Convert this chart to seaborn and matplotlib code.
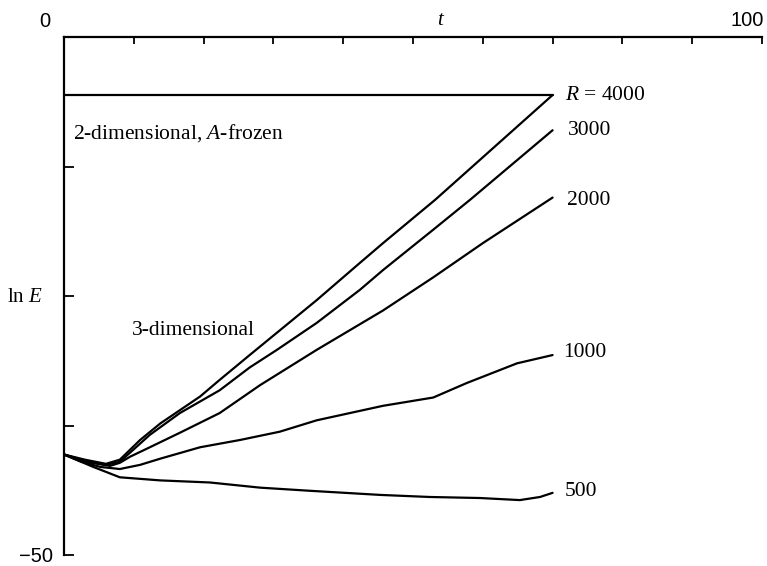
import numpy as np
import pandas as pd
import matplotlib
matplotlib.use("Agg")
import matplotlib.pyplot as plt
import seaborn as sns

# Energy growth ln E versus time t for several Reynolds numbers R
t_4000 = [0, 3, 6, 8.0, 10.9, 13.8, 19.5, 22.3, 26.6, 36.2, 42.4, 45.7, 53.2, 70]
e_4000 = [-40.3, -40.8, -41.2, -40.8, -38.9, -37.3, -34.7, -33.1, -30.7, -25.4, -21.8, -19.9, -15.7, -5.6]

t_3000 = [0, 3, 6, 8.0, 9.5, 12.3, 16.6, 22.3, 26.6, 30.5, 36.2, 42.4, 45.7, 52.9, 58.2, 70]
e_3000 = [-40.3, -40.9, -41.3, -41.0, -40.1, -38.4, -36.3, -34.1, -31.9, -30.2, -27.6, -24.4, -22.5, -18.6, -15.7, -9.0]

t_2000 = [0, 3, 6.6, 8.0, 9.5, 12.3, 16.6, 22.3, 28.1, 36.2, 45.7, 52.9, 60.0, 70]
e_2000 = [-40.3, -41.0, -41.4, -41.1, -40.5, -39.6, -38.2, -36.3, -33.6, -30.2, -26.4, -23.2, -19.9, -15.5]

t_1000 = [0, 2.5, 5.2, 8.0, 10.9, 13.8, 19.5, 25.2, 30.9, 36.2, 45.7, 52.9, 57.7, 64.9, 70]
e_1000 = [-40.3, -41.0, -41.5, -41.7, -41.3, -40.7, -39.6, -38.9, -38.1, -37.0, -35.6, -34.8, -33.4, -31.5, -30.7]

t_500 = [0, 4.2, 8.0, 13.8, 20.9, 28.1, 35.2, 45.3, 52.4, 59.6, 65.3, 68.2, 70]
e_500 = [-40.3, -41.5, -42.5, -42.8, -43.0, -43.5, -43.8, -44.2, -44.4, -44.5, -44.7, -44.4, -44.0]

# Two-dimensional, A-frozen reference level
t_2d = [0, 70]
e_2d = [-5.6, -5.6]

curve_labels = ["R = 4000", "3000", "2000", "1000", "500"]
curve_t = [t_4000, t_3000, t_2000, t_1000, t_500]
curve_e = [e_4000, e_3000, e_2000, e_1000, e_500]

frames = [pd.DataFrame({"t": tt, "lnE": ee, "case": lab})
          for tt, ee, lab in zip(curve_t, curve_e, curve_labels)]
frames.append(pd.DataFrame({"t": t_2d, "lnE": e_2d, "case": "2d"}))
df = pd.concat(frames, ignore_index=True)

sns.set_theme(style="white")
plt.rcParams["font.family"] = ["Liberation Serif", "DejaVu Serif"]
plt.rcParams["mathtext.fontset"] = "custom"
plt.rcParams["mathtext.rm"] = "Liberation Serif"
plt.rcParams["mathtext.it"] = "Liberation Serif:italic"
plt.rcParams["text.color"] = "black"
plt.rcParams["xtick.color"] = "black"
plt.rcParams["ytick.color"] = "black"
plt.rcParams["axes.labelcolor"] = "black"

fig = plt.figure(figsize=(7.67, 5.66), dpi=100)
ax = fig.add_axes([64 / 767, 1 - 555 / 566, (762 - 64) / 767, (555 - 37) / 566])

cases = curve_labels + ["2d"]
sns.lineplot(data=df, x="t", y="lnE", hue="case", hue_order=cases,
             palette=["black"] * len(cases), legend=False, sort=False,
             estimator=None, linewidth=1.6, ax=ax)

ax.set_xlim(0, 100)
ax.set_ylim(-50, 0)
ax.set_xlabel("")
ax.set_ylabel("")

for side in ["right", "bottom"]:
    ax.spines[side].set_visible(False)
for side in ["left", "top"]:
    ax.spines[side].set_color("black")
    ax.spines[side].set_linewidth(1.6)

ax.xaxis.tick_top()
ax.set_xticks(np.arange(0, 101, 10))
ax.set_xticklabels([])
ax.tick_params(axis="x", direction="in", length=5, width=1.3, color="black",
               top=True, bottom=False)

ax.set_yticks([-50, -37.5, -25, -12.5, 0])
ax.set_yticklabels(["\u221250", "", "", "", ""], family="Liberation Sans",
                   fontsize=14.5, color="black")
ax.tick_params(axis="y", direction="in", length=7, width=1.3, color="black",
               left=True, right=False, pad=8)

ax.text(-2.7, 1.5, "0", ha="center", va="center", family="Liberation Sans",
        fontsize=14.5, color="black", clip_on=False)
ax.text(100.3, 1.6, "100", ha="right", va="center", family="Liberation Sans",
        fontsize=14.5, color="black", clip_on=False)
ax.text(53.8, 1.6, "t", ha="center", va="center", style="italic", fontsize=15,
        color="black", clip_on=False)
ax.text(-3.0, -25.1, "ln $\\mathit{E}$", ha="right", va="center", fontsize=15,
        color="black", clip_on=False)

label_pos = [(71.8, -5.6), (72.2, -9.0), (72.0, -15.8), (71.5, -30.5), (71.8, -43.9)]
for lab, (x, y) in zip(curve_labels, label_pos):
    txt = "$\\mathit{R}$ = 4000" if lab.startswith("R") else lab
    ax.text(x, y, txt, ha="left", va="center", fontsize=15.5, color="black")

ax.text(1.3, -9.3, "2-dimensional, $\\mathit{A}$-frozen", ha="left", va="center",
        fontsize=15.5, color="black")
ax.text(9.7, -28.3, "3-dimensional", ha="left", va="center", fontsize=15.5,
        color="black")

fig.savefig("out.png", dpi=100)
